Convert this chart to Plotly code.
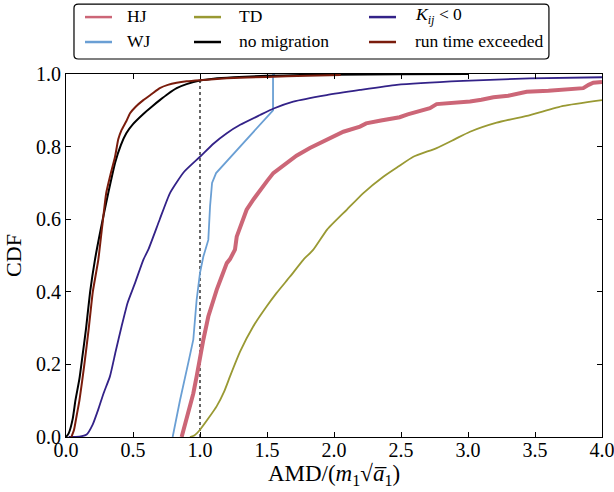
import plotly.graph_objects as go

# Cumulative distributions of the angular momentum deficit, AMD/(m1*sqrt(a1))
hj_x = [0.863, 0.90, 0.925, 0.95, 0.975, 1.0, 1.025, 1.062, 1.10, 1.125, 1.162, 1.20,
        1.224, 1.261, 1.274, 1.31, 1.348, 1.40, 1.448, 1.50, 1.547, 1.60, 1.647, 1.72,
        1.82, 1.945, 2.07, 2.194, 2.24, 2.35, 2.49, 2.55, 2.617, 2.716, 2.766, 2.90,
        3.015, 3.10, 3.19, 3.30, 3.438, 3.60, 3.86, 3.90, 3.935, 4.0]
hj_y = [0.0, 0.05, 0.085, 0.12, 0.167, 0.222, 0.268, 0.332, 0.378, 0.406, 0.442, 0.479,
        0.490, 0.516, 0.552, 0.590, 0.626, 0.655, 0.681, 0.705, 0.727, 0.742, 0.754, 0.775,
        0.796, 0.818, 0.841, 0.855, 0.864, 0.872, 0.881, 0.889, 0.896, 0.906, 0.917, 0.920,
        0.924, 0.929, 0.936, 0.940, 0.951, 0.954, 0.961, 0.970, 0.976, 0.978]

wj_x = [0.796, 0.85, 0.91, 0.95, 0.975, 1.0, 1.025, 1.062, 1.075, 1.09, 1.12, 1.522, 1.545, 1.545, 1.56]
wj_y = [0.0, 0.10, 0.20, 0.268, 0.378, 0.452, 0.497, 0.543, 0.635, 0.700, 0.727, 0.892, 0.900, 1.0, 1.0]

td_x = [0.925, 0.96, 1.0, 1.06, 1.125, 1.18, 1.224, 1.299, 1.398, 1.498, 1.572, 1.672,
        1.771, 1.846, 1.95, 2.095, 2.219, 2.368, 2.48, 2.592, 2.766, 2.90, 3.015, 3.214,
        3.463, 3.711, 4.0]
td_y = [0.0, 0.005, 0.02, 0.05, 0.085, 0.125, 0.167, 0.235, 0.305, 0.36, 0.397, 0.442,
        0.488, 0.516, 0.572, 0.626, 0.672, 0.717, 0.745, 0.772, 0.796, 0.820, 0.841, 0.866,
        0.887, 0.912, 0.928]

nomig_x = [0.0, 0.02, 0.05, 0.07, 0.10, 0.12, 0.15, 0.18, 0.216, 0.25, 0.28, 0.32, 0.366,
           0.41, 0.45, 0.50, 0.577, 0.64, 0.70, 0.76, 0.826, 0.90, 1.0, 1.1, 1.25, 1.5,
           1.75, 2.0, 2.5, 3.0]
nomig_y = [0.0, 0.01, 0.05, 0.10, 0.16, 0.215, 0.30, 0.40, 0.488, 0.555, 0.61, 0.68, 0.755,
           0.805, 0.837, 0.862, 0.890, 0.910, 0.928, 0.945, 0.961, 0.972, 0.982, 0.987,
           0.991, 0.995, 0.997, 0.998, 0.999, 1.0]

kneg_x = [0.02, 0.10, 0.154, 0.20, 0.241, 0.28, 0.328, 0.37, 0.415, 0.46, 0.515, 0.577,
          0.614, 0.70, 0.776, 0.88, 1.0, 1.1, 1.2, 1.3, 1.448, 1.55, 1.696, 1.945, 2.194,
          2.468, 2.965, 3.46, 4.0]
kneg_y = [0.0, 0.001, 0.007, 0.035, 0.076, 0.12, 0.167, 0.235, 0.305, 0.37, 0.424, 0.488,
          0.516, 0.60, 0.672, 0.73, 0.772, 0.808, 0.837, 0.86, 0.887, 0.905, 0.924, 0.942,
          0.956, 0.970, 0.981, 0.988, 0.991]

runtime_x = [0.04, 0.06, 0.08, 0.10, 0.137, 0.17, 0.20, 0.241, 0.27, 0.30, 0.33, 0.366,
             0.39, 0.415, 0.45, 0.478, 0.52, 0.577, 0.64, 0.70, 0.76, 0.826, 0.90, 1.0,
             1.2, 1.5, 1.8, 2.05]
runtime_y = [0.0, 0.02, 0.06, 0.10, 0.20, 0.30, 0.40, 0.488, 0.58, 0.672, 0.72, 0.772,
             0.82, 0.846, 0.87, 0.892, 0.91, 0.928, 0.945, 0.961, 0.970, 0.976, 0.980,
             0.983, 0.988, 0.992, 0.995, 0.997]

# reference line at AMD = 1, up to the no-migration curve
ref_x = [1.0, 1.0]
ref_y = [0.0, 0.982]

x_ticks = [0.0, 0.5, 1.0, 1.5, 2.0, 2.5, 3.0, 3.5, 4.0]
y_ticks = [0.0, 0.2, 0.4, 0.6, 0.8, 1.0]

SERIF = "Liberation Serif"

fig = go.Figure()
fig.add_trace(go.Scatter(x=ref_x, y=ref_y, mode="lines", showlegend=False,
                         line=dict(color="black", width=1.2, dash="dot"), hoverinfo="skip"))

# name, x, y, colour, width, line shape, legend slot (column, row)
series = [
    ("HJ", hj_x, hj_y, "#CC6677", 4.0, "linear", (0, 0)),
    ("WJ", wj_x, wj_y, "#6A9FD4", 1.8, "linear", (0, 1)),
    ("TD", td_x, td_y, "#999933", 1.8, "spline", (1, 0)),
    ("no migration", nomig_x, nomig_y, "black", 2.0, "spline", (1, 1)),
    ("<i>K</i><sub><i>ij</i></sub> &lt; 0", kneg_x, kneg_y, "#332288", 1.8, "spline", (2, 0)),
    ("run time exceeded", runtime_x, runtime_y, "#7A1C0C", 2.0, "spline", (2, 1)),
]
for name, xs, ys, col, w, shape, _ in series:
    fig.add_trace(go.Scatter(x=xs, y=ys, mode="lines", name=name, showlegend=False,
                             line=dict(color=col, width=w, shape=shape, smoothing=0.5)))

# legend block above the axes (paper coordinates): three columns, two rows
col_line_x = [(0.0354, 0.0858), (0.2388, 0.2892), (0.5653, 0.6157)]
col_text_x = [0.1101, 0.3190, 0.6474]
row_y = [1.1568, 1.0881]
for name, _, _, col, w, _, (c, r) in series:
    fig.add_shape(type="line", xref="paper", yref="paper",
                  x0=col_line_x[c][0], x1=col_line_x[c][1], y0=row_y[r], y1=row_y[r],
                  line=dict(color=col, width=2.5))
    fig.add_annotation(xref="paper", yref="paper", x=col_text_x[c], y=row_y[r] + 0.004,
                       text=name, showarrow=False, xanchor="left", yanchor="middle",
                       font=dict(family=SERIF, size=17.5, color="black"))

# rounded frame around the legend block
x0, x1, y0, y1 = 0.0149, 0.901, 1.0413, 1.1926
rx, ry = 0.008, 0.011
frame = (f"M{x0+rx},{y0} L{x1-rx},{y0} Q{x1},{y0} {x1},{y0+ry} L{x1},{y1-ry} "
         f"Q{x1},{y1} {x1-rx},{y1} L{x0+rx},{y1} Q{x0},{y1} {x0},{y1-ry} "
         f"L{x0},{y0+ry} Q{x0},{y0} {x0+rx},{y0} Z")
fig.add_shape(type="path", path=frame, xref="paper", yref="paper",
              line=dict(color="black", width=1.2), fillcolor="rgba(0,0,0,0)")

axis_common = dict(
    showline=True, linecolor="black", linewidth=1, mirror="allticks",
    ticks="inside", ticklen=5, tickwidth=1, tickcolor="black",
    showgrid=False, zeroline=False, automargin=False, ticklabeloverflow="allow",
    tickfont=dict(family=SERIF, size=20, color="black"),
)

fig.update_layout(
    width=614, height=492,
    margin=dict(l=66, r=12, t=74, b=55, autoexpand=False),
    paper_bgcolor="white", plot_bgcolor="white",
    showlegend=False,
    xaxis=dict(range=[0, 4], tickvals=x_ticks, ticktext=[f"{v:.1f}" for v in x_ticks],
               ticklabelstandoff=-5,
               title=dict(text="AMD/(<i>m</i><sub>1</sub>√<i>a\u0305</i><sub>1</sub>)",
                          font=dict(family=SERIF, size=23, color="black"), standoff=2),
               **axis_common),
    yaxis=dict(range=[0, 1], tickvals=y_ticks, ticktext=[f"{v:.1f}" for v in y_ticks],
               title=dict(text="CDF", font=dict(family=SERIF, size=22, color="black"), standoff=8),
               **axis_common),
)

fig.write_html("out.html")
